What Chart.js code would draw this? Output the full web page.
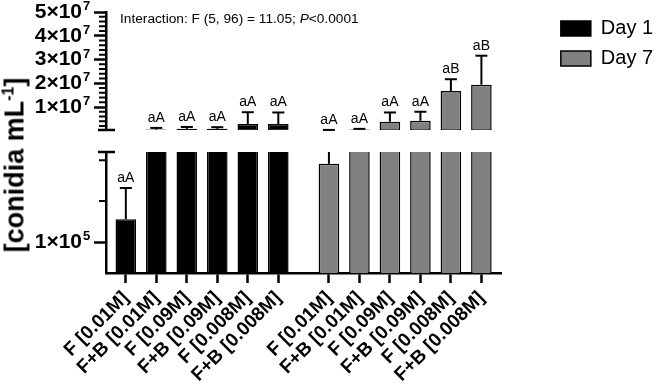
<!DOCTYPE html>
<html>
<head>
<meta charset="utf-8">
<script src="https://cdn.jsdelivr.net/npm/chart.js@4.4.1/dist/chart.umd.min.js"></script>
<style>
  body { margin: 0; background: #fff; }
  #wrap { position: relative; width: 661px; height: 390px; font-family: "Liberation Sans", Arial, sans-serif; }
  .box { position: absolute; left: 0; }
  #ytitle { position: absolute; left: 15px; top: 165px; transform: translate(-50%, -50%) rotate(-90deg);
            white-space: nowrap; font-weight: bold; font-size: 27px; color: #000; }
  #ytitle sup { font-size: 16px; }
  #stat { position: absolute; left: 120px; top: 11px; font-size: 13.7px; line-height: 16px; color: #000; white-space: nowrap; }
</style>
</head>
<body>
<div id="wrap">
  <div class="box" style="top:0"><canvas id="topChart" width="661" height="142"></canvas></div>
  <div class="box" style="top:140px"><canvas id="bottomChart" width="661" height="250"></canvas></div>
  <div id="ytitle">[conidia mL<sup>-1</sup>]</div>
  <div id="stat">Interaction: F (5, 96) = 11.05; <i>P</i>&lt;0.0001</div>
</div>
<script>
// data
var categories = ['F [0.01M]', 'F+B [0.01M]', 'F [0.09M]', 'F+B [0.09M]', 'F [0.008M]', 'F+B [0.008M]'];
var day1Mean = [1.56e5, 5.0e5, 8.0e5, 8.0e5, 2.8e6, 2.8e6];
var day1ErrUp = [7.6e4, 7.0e5, 8.0e5, 7.0e5, 5.0e6, 4.9e6];
var day7Mean = [2.91e5, 5.0e5, 3.8e6, 4.2e6, 1.67e7, 1.94e7];
var day7ErrUp = [6.0e4, 3.0e5, 3.9e6, 3.8e6, 5.0e6, 1.22e7];
var day1Letters = ['aA', 'aA', 'aA', 'aA', 'aA', 'aA'];
var day7Letters = ['aA', 'aA', 'aA', 'aA', 'aB', 'aB'];

// axis segments (broken y axis)
var yTopRange = [3.2e5, 5e7];
var yTopTicks = [1e7, 2e7, 3e7, 4e7, 5e7];
var yTopMinorStep = 2e6;
var yBottomRange = [2.44e4, 3.2e5];
var yBottomTicks = [1e5];
var yBottomMinor = [2e5, 3e5];

// x layout: Day 7 group starts after a wider gap
var groupGap = 6.66;
var xMin = -0.65, xMax = 12.33;
var pos1 = categories.map(function (c, i) { return i; });
var pos7 = categories.map(function (c, i) { return i + groupGap; });
var xTickPos = pos1.concat(pos7);
var xTickLabels = categories.concat(categories);

var yTopMinor = [];
for (var v = yTopMinorStep; v < yTopRange[1]; v += yTopMinorStep) {
  if (yTopTicks.indexOf(v) < 0) yTopMinor.push(v);
}

Chart.defaults.font.family = '"Liberation Sans", Arial, sans-serif';
Chart.defaults.color = '#000';

var Y_TICK_PAD = 12;
function expOf(val) { return Math.floor(Math.log10(val) + 1e-9); }
// label is "m×10", the exponent is drawn as a superscript by axisMarks
function mantissa(val) { return Math.round(val / Math.pow(10, expOf(val))) + '×10'; }

function makeDatasets() {
  return [{
    label: 'Day 1',
    data: day1Mean.map(function (v, i) { return {x: pos1[i], y: v}; }),
    errUp: day1ErrUp, letters: day1Letters,
    backgroundColor: '#000', borderColor: '#000', borderWidth: 1.5, borderSkipped: false,
    grouped: false, barPercentage: 0.75, categoryPercentage: 0.9, clip: 0,
    xAxisID: 'x', yAxisID: 'y'
  }, {
    label: 'Day 7',
    data: day7Mean.map(function (v, i) { return {x: pos7[i], y: v}; }),
    errUp: day7ErrUp, letters: day7Letters,
    backgroundColor: '#808080', borderColor: '#000', borderWidth: 1.5, borderSkipped: false,
    grouped: false, barPercentage: 0.75, categoryPercentage: 0.9, clip: 0,
    xAxisID: 'x', yAxisID: 'y'
  }];
}

// upper error bars + significance letters, only the part inside this segment
var errorBars = {
  id: 'errorBars',
  afterDatasetsDraw: function (chart) {
    var ctx = chart.ctx, ys = chart.scales.y;
    ctx.save();
    ctx.strokeStyle = '#000';
    ctx.fillStyle = '#000';
    ctx.lineWidth = 2;
    ctx.font = '14px "Liberation Sans", Arial, sans-serif';
    ctx.textAlign = 'center';
    ctx.textBaseline = 'alphabetic';
    chart.data.datasets.forEach(function (ds, di) {
      chart.getDatasetMeta(di).data.forEach(function (bar, i) {
        var mean = ds.data[i].y, upper = mean + ds.errUp[i];
        var lo = Math.max(mean, ys.min), hi = Math.min(upper, ys.max);
        if (hi < lo) return;
        var yLo = ys.getPixelForValue(lo), yHi = ys.getPixelForValue(hi);
        ctx.beginPath();
        ctx.moveTo(bar.x, yLo);
        ctx.lineTo(bar.x, yHi);
        ctx.stroke();
        if (upper <= ys.max) {
          ctx.beginPath();
          ctx.moveTo(bar.x - 6, yHi);
          ctx.lineTo(bar.x + 6, yHi);
          ctx.stroke();
          ctx.fillText(ds.letters[i], bar.x, yHi - 6);
        }
      });
    });
    ctx.restore();
  }
};

// minor ticks, exponents of the tick labels and the break marks on the y axis
var axisMarks = {
  id: 'axisMarks',
  afterDraw: function (chart, args, opts) {
    var ys = chart.scales.y, ctx = chart.ctx, x0 = ys.right;
    ctx.save();
    ctx.strokeStyle = '#000';
    ctx.fillStyle = '#000';
    ctx.lineWidth = 2;
    ctx.beginPath();
    (opts.minor || []).forEach(function (v) {
      var py = ys.getPixelForValue(v);
      ctx.moveTo(x0 - 7, py);
      ctx.lineTo(x0, py);
    });
    ctx.stroke();

    ctx.font = 'bold 13px "Liberation Sans", Arial, sans-serif';
    ctx.textAlign = 'left';
    ctx.textBaseline = 'alphabetic';
    ys.ticks.forEach(function (t) {
      var py = ys.getPixelForValue(t.value);
      ctx.fillText(String(expOf(t.value)), x0 - 12 - Y_TICK_PAD + 1, py - 2);
    });

    ctx.lineWidth = 2.5;
    var by = opts.breakAt === 'top' ? chart.chartArea.top : chart.chartArea.bottom;
    ctx.beginPath();
    ctx.moveTo(x0 - 8, by);
    ctx.lineTo(x0 + 9, by);
    ctx.stroke();
    ctx.restore();
  }
};

function yAxis(range, ticks) {
  return {
    type: 'linear', min: range[0], max: range[1],
    afterFit: function (s) {
      s.width = 106;
      s.paddingTop = 12;
      s.paddingBottom = 12;
    },
    afterBuildTicks: function (s) { s.ticks = ticks.map(function (t) { return {value: t}; }); },
    ticks: { callback: mantissa, color: '#000', padding: Y_TICK_PAD, font: {size: 21, weight: 'bold'} },
    grid: { drawOnChartArea: false, tickLength: 12, tickWidth: 2.5, tickColor: '#000' },
    border: { color: '#000', width: 2.5 }
  };
}

var topChart = new Chart(document.getElementById('topChart'), {
  type: 'bar',
  data: { datasets: makeDatasets() },
  options: {
    responsive: false,
    animation: false,
    scales: {
      x: { type: 'linear', display: false, min: xMin, max: xMax, offset: false },
      y: yAxis(yTopRange, yTopTicks),
      gap: {
        type: 'linear', position: 'right', display: true,
        grid: { display: false }, border: { display: false }, ticks: { display: false },
        afterFit: function (s) { s.width = 49; }
      }
    },
    plugins: {
      legend: {
        position: 'right', align: 'start',
        title: { display: true, text: '', font: {size: 7}, padding: 0 },
        labels: { boxWidth: 30, boxHeight: 15, padding: 10, color: '#000', font: {size: 20} }
      },
      tooltip: { enabled: false },
      axisMarks: { minor: yTopMinor, breakAt: 'bottom' }
    }
  },
  plugins: [errorBars, axisMarks]
});

var bottomChart = new Chart(document.getElementById('bottomChart'), {
  type: 'bar',
  data: { datasets: makeDatasets() },
  options: {
    responsive: false,
    animation: false,
    layout: { padding: { right: 661 - topChart.chartArea.right } },
    scales: {
      x: {
        type: 'linear', min: xMin, max: xMax, offset: false,
        afterBuildTicks: function (s) { s.ticks = xTickPos.map(function (t) { return {value: t}; }); },
        afterFit: function (s) { s.height = 117; },
        ticks: {
          autoSkip: false, maxRotation: 45, minRotation: 45, padding: 4, color: '#000',
          font: {size: 19, weight: 'bold'},
          callback: function (val, i) { return xTickLabels[i]; }
        },
        grid: { drawOnChartArea: false, offset: false, tickLength: 10, tickWidth: 2.5, tickColor: '#000' },
        border: { color: '#000', width: 2.5 }
      },
      y: yAxis(yBottomRange, yBottomTicks)
    },
    plugins: {
      legend: { display: false },
      tooltip: { enabled: false },
      axisMarks: { minor: yBottomMinor, breakAt: 'top' }
    }
  },
  plugins: [errorBars, axisMarks]
});
</script>
</body>
</html>
